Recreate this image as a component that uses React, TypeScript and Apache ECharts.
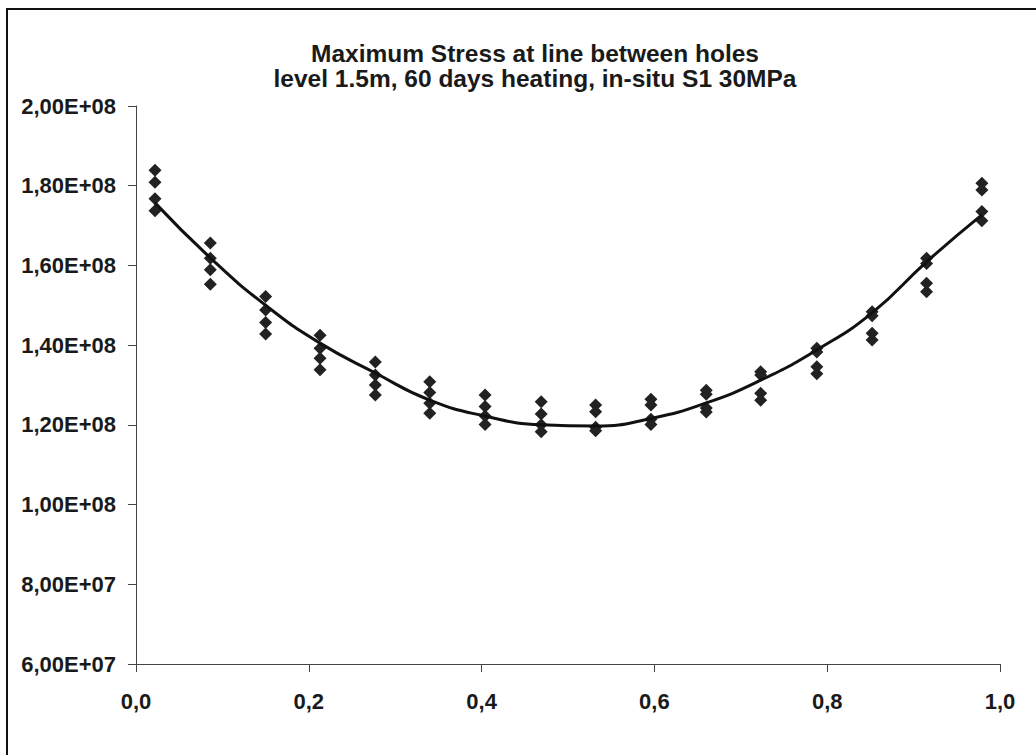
import React, { useEffect, useRef } from "react";
import * as echarts from "echarts";

const titleLines = [
  "Maximum Stress at line between holes",
  "level 1.5m, 60 days heating, in-situ S1 30MPa",
];

const clusterX = [0.022, 0.086, 0.15, 0.213, 0.277, 0.340, 0.404, 0.469, 0.532, 0.596, 0.660, 0.723, 0.788, 0.852, 0.915, 0.979];

const pointsA = [1.839e8, 1.656e8, 1.522e8, 1.425e8, 1.358e8, 1.308e8, 1.275e8, 1.258e8, 1.25e8, 1.264e8, 1.287e8, 1.333e8, 1.392e8, 1.484e8, 1.618e8, 1.806e8];
const pointsB = [1.809e8, 1.618e8, 1.488e8, 1.392e8, 1.325e8, 1.281e8, 1.246e8, 1.227e8, 1.233e8, 1.25e8, 1.277e8, 1.325e8, 1.383e8, 1.474e8, 1.605e8, 1.789e8];
const pointsC = [1.767e8, 1.589e8, 1.457e8, 1.367e8, 1.30e8, 1.254e8, 1.222e8, 1.20e8, 1.194e8, 1.214e8, 1.242e8, 1.279e8, 1.346e8, 1.43e8, 1.555e8, 1.735e8];
const pointsD = [1.737e8, 1.553e8, 1.428e8, 1.338e8, 1.275e8, 1.229e8, 1.201e8, 1.183e8, 1.185e8, 1.201e8, 1.232e8, 1.262e8, 1.328e8, 1.413e8, 1.534e8, 1.712e8];

const trendValues = [1.757e8, 1.619e8, 1.50e8, 1.405e8, 1.33e8, 1.262e8, 1.222e8, 1.20e8, 1.197e8, 1.216e8, 1.255e8, 1.312e8, 1.388e8, 1.481e8, 1.609e8, 1.727e8];

const xMin = 0;
const xMax = 1;
const xStep = 0.2;
const yMin = 6e7;
const yMax = 2e8;
const yStep = 2e7;

function fmtSci(v: number): string {
  const exp = Math.floor(Math.log10(v) + 1e-9);
  const m = v / Math.pow(10, exp);
  const e = exp < 10 ? "0" + exp : String(exp);
  return m.toFixed(2).replace(".", ",") + "E+" + e;
}

export default function App() {
  const ref = useRef<HTMLDivElement>(null);
  useEffect(() => {
    document.body.style.margin = "0";
    if (!ref.current) return;
    const chart = echarts.init(ref.current, null, { renderer: "svg" });
    const font = "'Liberation Sans', Arial, sans-serif";
    const scatterData: number[][] = [];
    [pointsA, pointsB, pointsC, pointsD].forEach((arr) => {
      arr.forEach((v, i) => scatterData.push([clusterX[i], v]));
    });
    const lineData = trendValues.map((v, i) => [clusterX[i], v]);
    chart.setOption({
      animation: false,
      backgroundColor: "#fff",
      title: {
        text: titleLines.join("\n"),
        left: 530,
        top: 36,
        textAlign: "center",
        textStyle: {
          fontFamily: font,
          fontWeight: "bold",
          fontSize: 24.5,
          lineHeight: 25,
          color: "#1a1a1a",
        },
      },
      grid: { left: 136, right: 36, top: 106, bottom: 91, containLabel: false },
      xAxis: {
        type: "value",
        min: xMin,
        max: xMax,
        interval: xStep,
        axisLine: { show: true, onZero: false, lineStyle: { color: "#444", width: 1 } },
        axisTick: { show: true, length: 8, lineStyle: { color: "#444" } },
        splitLine: { show: false },
        axisLabel: {
          margin: 26,
          fontFamily: font,
          fontWeight: "bold",
          fontSize: 22,
          color: "#1a1a1a",
          formatter: (v: number) => v.toFixed(1).replace(".", ","),
        },
      },
      yAxis: {
        type: "value",
        min: yMin,
        max: yMax,
        interval: yStep,
        axisLine: { show: true, onZero: false, lineStyle: { color: "#444", width: 1 } },
        axisTick: { show: true, length: 8, lineStyle: { color: "#444" } },
        splitLine: { show: false },
        axisLabel: {
          margin: 20,
          fontFamily: font,
          fontWeight: "bold",
          fontSize: 22,
          color: "#1a1a1a",
          formatter: (v: number) => fmtSci(v),
        },
      },
      graphic: [
        {
          type: "polyline",
          shape: { points: [[7, 760], [7, 9], [1040, 9]] },
          style: { fill: "none", stroke: "#111", lineWidth: 2 },
          silent: true,
        },
      ],
      series: [
        {
          type: "scatter",
          data: scatterData,
          symbol: "diamond",
          symbolSize: 13,
          itemStyle: { color: "#222", opacity: 1 },
          z: 3,
        },
        {
          type: "line",
          data: lineData,
          smooth: true,
          showSymbol: false,
          symbol: "none",
          lineStyle: { color: "#111", width: 3 },
          z: 4,
        },
      ],
    });
    return () => chart.dispose();
  }, []);
  return <div ref={ref} style={{ width: 1036, height: 755 }} />;
}
